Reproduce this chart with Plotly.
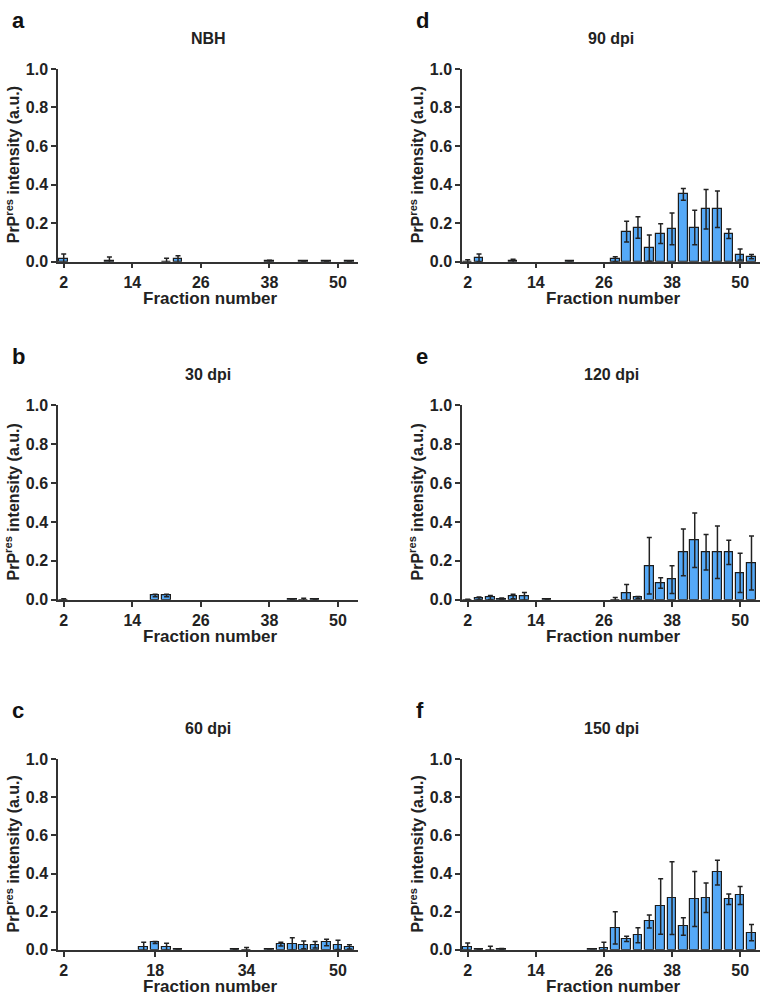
import plotly.graph_objects as go

W, H = 762, 1005

fractions = list(range(2, 53, 2))

def series(d):
    return [d.get(f, (None, None))[0] for f in fractions], [d.get(f, (None, None))[1] for f in fractions]

# (value, error) per fraction
nbh = {2: (0.015, 0.025), 10: (0.004, 0.02), 20: (0.0, 0.018), 22: (0.012, 0.018),
       38: (0.002, 0.005), 44: (0.002, 0.002), 48: (0.002, 0.002), 52: (0.003, 0.002)}
dpi30 = {2: (0.0, 0.005), 18: (0.022, 0.006), 20: (0.022, 0.006),
         42: (0.003, 0.002), 44: (0.0, 0.008), 46: (0.003, 0.002)}
dpi60 = {16: (0.012, 0.028), 18: (0.038, 0.005), 20: (0.015, 0.019), 22: (0.002, 0.0),
         32: (0.002, 0.0), 34: (0.0, 0.012), 38: (0.004, 0.0), 40: (0.03, 0.01),
         42: (0.03, 0.033), 44: (0.026, 0.02), 46: (0.026, 0.017), 48: (0.038, 0.017),
         50: (0.026, 0.024), 52: (0.015, 0.011)}
dpi90 = {2: (0.0, 0.01), 4: (0.02, 0.02), 10: (0.003, 0.009), 20: (0.003, 0.0),
         28: (0.012, 0.013), 30: (0.156, 0.054), 32: (0.177, 0.056), 34: (0.07, 0.068),
         36: (0.145, 0.051), 38: (0.17, 0.083), 40: (0.349, 0.03), 42: (0.177, 0.09),
         44: (0.272, 0.102), 46: (0.272, 0.095), 48: (0.145, 0.025), 50: (0.037, 0.028),
         52: (0.026, 0.011)}
dpi120 = {2: (0.0, 0.003), 4: (0.008, 0.006), 6: (0.012, 0.01), 8: (0.005, 0.004),
          10: (0.017, 0.011), 12: (0.017, 0.02), 16: (0.003, 0.0), 28: (0.0, 0.012),
          30: (0.035, 0.044), 32: (0.012, 0.005), 34: (0.175, 0.145), 36: (0.086, 0.027),
          38: (0.104, 0.071), 40: (0.244, 0.12), 42: (0.306, 0.14), 44: (0.244, 0.091),
          46: (0.244, 0.135), 48: (0.244, 0.062), 50: (0.138, 0.101), 52: (0.189, 0.139)}
dpi150 = {2: (0.015, 0.02), 4: (0.003, 0.0), 6: (0.0, 0.018), 8: (0.005, 0.002),
          24: (0.005, 0.0), 26: (0.01, 0.03), 28: (0.115, 0.085), 30: (0.057, 0.014),
          32: (0.076, 0.039), 34: (0.148, 0.034), 36: (0.227, 0.146), 38: (0.271, 0.191),
          40: (0.122, 0.046), 42: (0.266, 0.144), 44: (0.273, 0.077), 46: (0.405, 0.065),
          48: (0.265, 0.028), 50: (0.285, 0.047), 52: (0.09, 0.042)}

titles = ["NBH", "30 dpi", "60 dpi", "90 dpi", "120 dpi", "150 dpi"]
letters = ["a", "b", "c", "d", "e", "f"]
panels = [nbh, dpi30, dpi60, dpi90, dpi120, dpi150]
xticks_default = [2, 14, 26, 38, 50]
xticks_c = [2, 18, 34, 50]
yticks = [0.0, 0.2, 0.4, 0.6, 0.8, 1.0]

# pixel geometry
cols_px = [(58, 358), (462, 760)]
rows_px = [(62, 258), (404, 602), (764, 958)]

FONT = "Liberation Sans, Arial, sans-serif"
fig = go.Figure()
layout = {}
annotations = []

for k in range(6):
    col = k // 3
    row = k % 3
    idx = k + 1
    xa = "x" if idx == 1 else f"x{idx}"
    ya = "y" if idx == 1 else f"y{idx}"
    vals, errs = series(panels[k])
    fig.add_trace(go.Bar(
        x=fractions, y=vals, xaxis=xa, yaxis=ya, width=1.5,
        marker=dict(color="#55a9f7", line=dict(color="#1c1c1c", width=1.2)),
        error_y=dict(type="data", array=errs, visible=True, color="#222222",
                     thickness=1.5, width=2.5),
        showlegend=False))
    x0, x1 = cols_px[col]
    yt, yb = rows_px[row]
    xdom = [x0 / W, x1 / W]
    ydom = [1 - yb / H, 1 - yt / H]
    tv = xticks_c if k == 2 else xticks_default
    layout["xaxis" if idx == 1 else f"xaxis{idx}"] = dict(
        domain=xdom, range=[1.0, 53.5], anchor=ya, tickvals=tv,
        ticktext=[str(t) for t in tv], showgrid=False, zeroline=False,
        showline=True, linecolor="#333333", linewidth=1.5, ticks="outside",
        ticklen=5, tickwidth=1.5, tickcolor="#333333",
        tickfont=dict(family=FONT, size=16, color="#222222", weight="bold"))
    layout["yaxis" if idx == 1 else f"yaxis{idx}"] = dict(
        domain=ydom, range=[0, 1.0], anchor=xa, tickvals=yticks,
        ticktext=[f"{t:.1f}" for t in yticks], showgrid=False, zeroline=False,
        showline=True, linecolor="#333333", linewidth=1.5, ticks="outside",
        ticklen=5, tickwidth=1.5, tickcolor="#333333",
        tickfont=dict(family=FONT, size=16, color="#222222", weight="bold"))
    # titles / labels
    cx = (x0 + x1) / 2 / W
    annotations.append(dict(text=titles[k], x=cx, y=1 - (yt - 31) / H, xref="paper",
                            yref="paper", showarrow=False, xanchor="center", yanchor="middle",
                            font=dict(family=FONT, size=16, color="#222222", weight="bold")))
    annotations.append(dict(text=letters[k], x=(x0 - 48) / W, y=1 - (yt - 49) / H, xref="paper",
                            yref="paper", showarrow=False, xanchor="left", yanchor="middle",
                            font=dict(family=FONT, size=22, color="#111111", weight="bold")))
    annotations.append(dict(text="Fraction number", x=(x0 + 5 + x1) / 2 / W, y=1 - (yb + 37) / H,
                            xref="paper", yref="paper", showarrow=False, xanchor="center",
                            yanchor="middle",
                            font=dict(family=FONT, size=17, color="#222222", weight="bold")))
    annotations.append(dict(text="PrP<sup>res</sup> intensity (a.u.)", x=(x0 - 45) / W,
                            y=1 - (yt + yb) / 2 / H, xref="paper", yref="paper",
                            showarrow=False, textangle=-90, xanchor="center", yanchor="middle",
                            font=dict(family=FONT, size=16, color="#222222", weight="bold")))

fig.update_layout(**layout)
fig.update_layout(width=W, height=H, margin=dict(l=0, r=0, t=0, b=0),
                  plot_bgcolor="white", paper_bgcolor="white",
                  annotations=annotations, bargap=0)
fig.write_html("out.html", config={"displayModeBar": False},
               post_script="document.body.style.margin='0';document.body.style.overflow='hidden';")
